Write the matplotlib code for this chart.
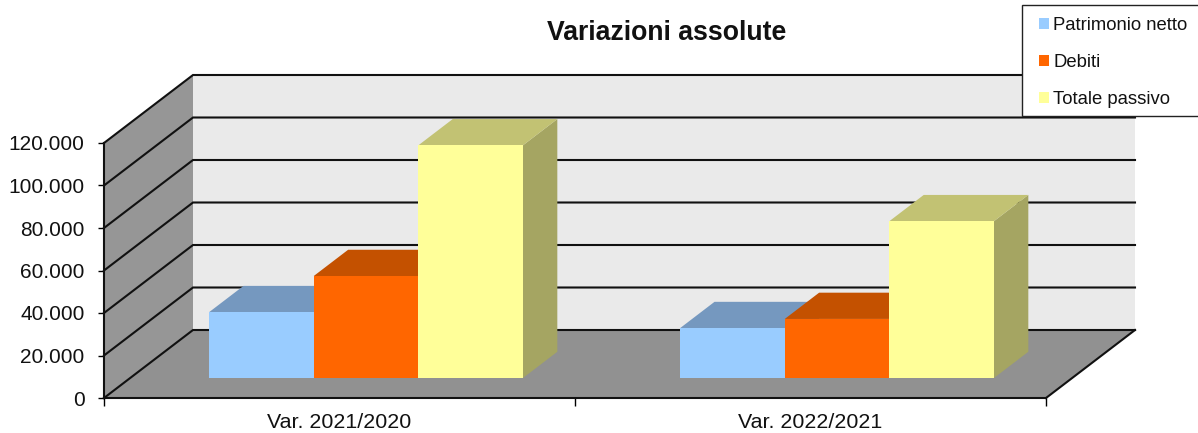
import matplotlib.pyplot as plt
from matplotlib.patches import Polygon, Rectangle

plt.rcParams['font.family'] = ['Liberation Sans', 'DejaVu Sans']

categories = ['Var. 2021/2020', 'Var. 2022/2021']
series_names = ['Patrimonio netto', 'Debiti', 'Totale passivo']
patrimonio = [31000, 23500]
debiti = [48000, 27800]
totale = [109500, 73800]
y_ticks = [0, 20000, 40000, 60000, 80000, 100000, 120000]
y_labels = ['0', '20.000', '40.000', '60.000', '80.000', '100.000', '120.000']

front_colors = ['#99CCFF', '#FF6600', '#FFFF99']
top_colors = ['#7598BF', '#C45100', '#C2C273']
side_colors = ['#7598BF', '#C45100', '#A5A562']

W, H = 1198, 433
fig = plt.figure(figsize=(W / 100, H / 100), dpi=100)
ax = fig.add_axes([104 / W, (H - 398) / H, 942 / W, 255 / H])
ax.set_xlim(0, 2)
ax.set_ylim(0, 120000)
ax.patch.set_visible(False)

# depth of the fake 3d box, in data units
depth_x = 89 / 471
depth_y = 32000


def project(x, v, d):
    return (x + d * depth_x, v + d * depth_y)


def face(points, color, z, **kw):
    poly = Polygon([project(*p) for p in points], closed=True, facecolor=color,
                   edgecolor=kw.pop('edgecolor', 'none'), clip_on=False, zorder=z, **kw)
    ax.add_patch(poly)


# walls and floor
face([(0, 0, 0), (0, 0, 1), (0, 120000, 1), (0, 120000, 0)], '#969696', 1)
face([(0, 0, 1), (2, 0, 1), (2, 120000, 1), (0, 120000, 1)], '#EAEAEA', 1)
face([(0, 0, 0), (2, 0, 0), (2, 0, 1), (0, 0, 1)], '#919191', 1)

# gridlines go along the side wall then the back wall
for v in y_ticks:
    pts = [project(0, v, 0), project(0, v, 1), project(2, v, 1)]
    ax.plot([p[0] for p in pts], [p[1] for p in pts], color='#111111', lw=1.5,
            clip_on=False, zorder=2, solid_joinstyle='miter')
pts = [project(2, 0, 0), project(2, 0, 1)]
ax.plot([p[0] for p in pts], [p[1] for p in pts], color='#111111', lw=1.5, clip_on=False, zorder=2)

# bars
bar_w = 104.6 / 471
offset = 79 / 471
d0 = 0.294
d1 = 0.68
for i, values in enumerate([patrimonio, debiti, totale]):
    for c, v in enumerate(values):
        x0 = c + offset + i * bar_w
        x1 = x0 + bar_w
        z = 3 + i
        face([(x1, 0, d0), (x1, 0, d1), (x1, v, d1), (x1, v, d0)], side_colors[i], z)
        face([(x0, v, d0), (x1, v, d0), (x1, v, d1), (x0, v, d1)], top_colors[i], z)
        face([(x0, 0, d0), (x1, 0, d0), (x1, v, d0), (x0, v, d0)], front_colors[i], z + 0.5)

for s in ['top', 'right']:
    ax.spines[s].set_visible(False)
for s in ['left', 'bottom']:
    ax.spines[s].set_linewidth(1.5)
    ax.spines[s].set_color('#111111')
    ax.spines[s].set_zorder(8)

ax.set_yticks(y_ticks)
ax.set_yticklabels(y_labels, fontsize=15, color='#111111')
ax.tick_params(axis='y', length=4, width=1, pad=10)
ax.set_xticks([0, 1, 2])
ax.set_xticklabels([])
ax.tick_params(axis='x', which='major', length=6, width=1)
ax.set_xticks([0.5, 1.5], minor=True)
ax.set_xticklabels(categories, minor=True, fontsize=15.4, color='#111111')
ax.tick_params(axis='x', which='minor', length=0, pad=10.5)

fig.text(667 / W, 1 - 33 / H, 'Variazioni assolute', fontsize=19.2, fontweight='bold',
         ha='center', va='center', color='#111111')

# legend box runs off the right edge
fig.add_artist(Rectangle((1022 / W, 1 - 116 / H), 190 / W, 111 / H, transform=fig.transFigure,
                         facecolor='white', edgecolor='#222222', lw=1, zorder=10))
handles = [Rectangle((0, 0), 1, 1, facecolor=c, edgecolor='none') for c in front_colors]
leg = fig.legend(handles, series_names, loc='center left', frameon=False, fontsize=13.3,
                 bbox_to_anchor=(1039 / W, 1 - 62.5 / H), handlelength=0.56, handleheight=0.56,
                 handletextpad=0.2, labelspacing=1.1, borderpad=0, borderaxespad=0,
                 labelcolor='#111111')
leg.set_zorder(11)

plt.savefig('out.png', dpi=100)
